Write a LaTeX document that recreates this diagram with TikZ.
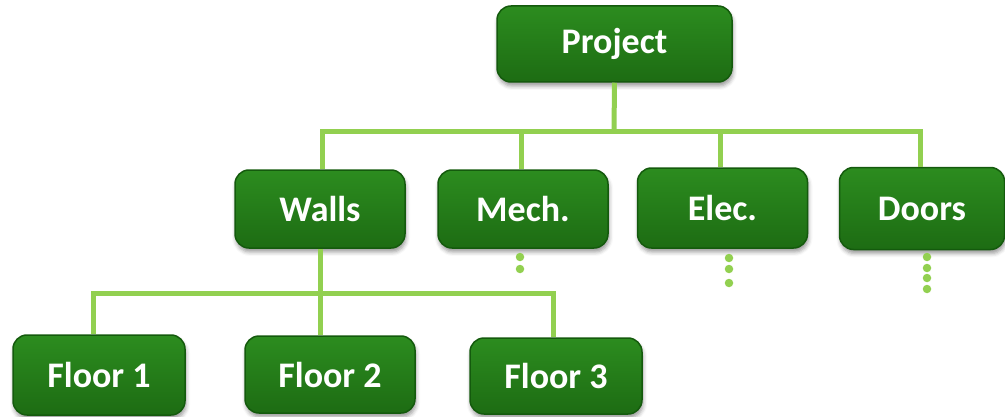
\documentclass[tikz,border=0pt]{standalone}
\usepackage{fontspec}
\setmainfont{Carlito}
\usetikzlibrary{shadows.blur}

\definecolor{boxtop}{HTML}{2C8C1F}
\definecolor{boxbot}{HTML}{1D6C13}
\definecolor{boxedge}{HTML}{145A0D}
\definecolor{linkgreen}{HTML}{92D050}

\tikzset{
  wbsbox/.style={
    rectangle, rounded corners=14pt, draw=boxedge, line width=1.5pt,
    top color=boxtop, bottom color=boxbot,
    minimum width=170pt, minimum height=78pt, inner sep=0pt,
    text=white, font=\fontsize{36}{42}\selectfont\bfseries,
    blur shadow={shadow xshift=1pt, shadow yshift=-4pt, shadow blur radius=4pt, shadow opacity=40}
  },
  link/.style={draw=linkgreen, line width=5pt},
  moredot/.style={circle, fill=linkgreen, inner sep=0pt, minimum size=8.5pt}
}

\begin{document}
\begin{tikzpicture}[x=1pt, y=1pt]
  \useasboundingbox (0,0) rectangle (1005,416);

  % level 0
  \node[wbsbox, minimum width=235pt, minimum height=76pt] (project) at (614.5,372) {Project};

  % level 1
  \node[wbsbox] (walls) at (320,207) {Walls};
  \node[wbsbox] (mech)  at (523,207) {Mech.};
  \node[wbsbox, minimum height=80pt] (elec)  at (722.5,208) {Elec.};
  \node[wbsbox, minimum width=165pt, minimum height=82pt] (doors) at (922,207.5) {Doors};

  % level 2
  \node[wbsbox, minimum width=172pt, minimum height=80pt] (floor1) at (99,41) {Floor 1};
  \node[wbsbox, minimum height=77pt] (floor2) at (330,41.5) {Floor 2};
  \node[wbsbox, minimum width=172pt, minimum height=76pt] (floor3) at (556,40) {Floor 3};

  % bus points
  \coordinate (pbus) at (614,284);
  \coordinate (wbus) at (320,123);

  % connectors under Project
  \draw[link] (project.south) -- (pbus);
  \draw[link] ([xshift=2pt]walls.north) |- (pbus) -| ([xshift=-2pt]doors.north);
  \draw[link] ([xshift=-2pt]mech.north) -- ([xshift=-2pt]mech.north |- pbus);
  \draw[link] ([xshift=-2.5pt]elec.north) -- ([xshift=-2.5pt]elec.north |- pbus);

  % connectors under Walls
  \draw[link] (walls.south) -- (wbus);
  \draw[link] ([xshift=-6pt]floor1.north) |- (wbus) -| ([xshift=-3pt]floor3.north);
  \draw[link] ([xshift=-10pt]floor2.north) -- ([xshift=-10pt]floor2.north |- wbus);

  % continuation dots
  \node[moredot] (m1) at (520,159) {};
  \node[moredot] (m2) at (520,147) {};
  \node[moredot] (e1) at (729,158) {};
  \node[moredot] (e2) at (729,147) {};
  \node[moredot] (e3) at (729,133) {};
  \node[moredot] (d1) at (927,159) {};
  \node[moredot] (d2) at (927,148) {};
  \node[moredot] (d3) at (927,138) {};
  \node[moredot] (d4) at (927,127) {};
\end{tikzpicture}
\end{document}
